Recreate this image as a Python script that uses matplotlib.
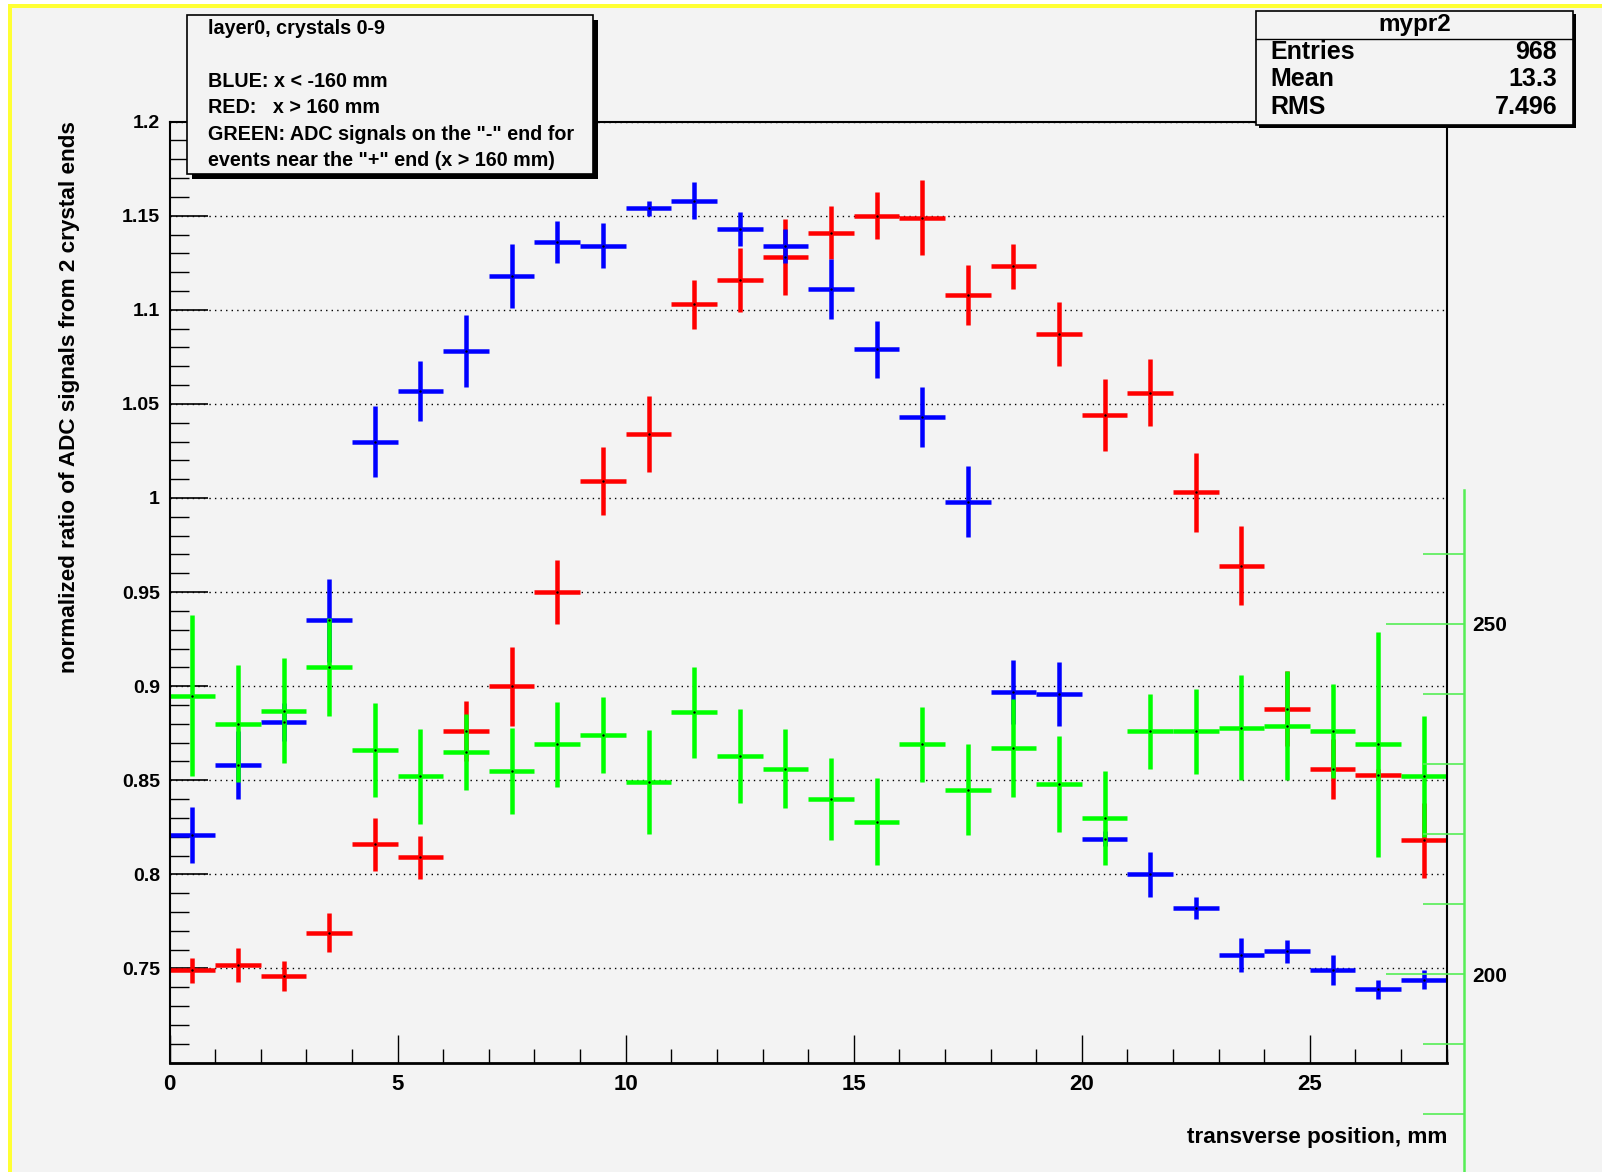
import numpy as np
import matplotlib
matplotlib.use("Agg")
import matplotlib.pyplot as plt
from matplotlib.patches import Rectangle
from matplotlib.lines import Line2D
from matplotlib.ticker import MultipleLocator

# bin centres (transverse position, mm)
x = np.arange(28) + 0.5

# BLUE: x < -160 mm
blue = [0.821, 0.858, 0.881, 0.935, 1.030, 1.057, 1.078, 1.118, 1.136, 1.134,
        1.154, 1.158, 1.143, 1.134, 1.111, 1.079, 1.043, 0.998, 0.897, 0.896,
        0.819, 0.800, 0.782, 0.757, 0.759, 0.749, 0.739, 0.744]
blue_err = [0.015, 0.018, 0.010, 0.022, 0.019, 0.016, 0.019, 0.017, 0.011, 0.012,
            0.004, 0.010, 0.009, 0.009, 0.016, 0.015, 0.016, 0.019, 0.017, 0.017,
            0.004, 0.012, 0.006, 0.009, 0.006, 0.008, 0.005, 0.005]

# RED: x > 160 mm
red = [0.749, 0.752, 0.746, 0.769, 0.816, 0.809, 0.876, 0.900, 0.950, 1.009,
       1.034, 1.103, 1.116, 1.128, 1.141, 1.150, 1.149, 1.108, 1.123, 1.087,
       1.044, 1.056, 1.003, 0.964, 0.888, 0.856, 0.853, 0.818]
red_err = [0.0065, 0.009, 0.008, 0.0105, 0.014, 0.0115, 0.016, 0.021, 0.017, 0.018,
           0.020, 0.013, 0.017, 0.020, 0.014, 0.0125, 0.020, 0.016, 0.012, 0.017,
           0.019, 0.018, 0.021, 0.021, 0.020, 0.016, 0.003, 0.020]

# GREEN: "-" end signals for events near "+" end (drawn in left-axis units)
green = [0.895, 0.880, 0.887, 0.910, 0.866, 0.852, 0.865, 0.855, 0.869, 0.874,
         0.849, 0.886, 0.863, 0.856, 0.840, 0.828, 0.869, 0.845, 0.867, 0.848,
         0.830, 0.876, 0.876, 0.878, 0.879, 0.876, 0.869, 0.852]
green_err = [0.043, 0.031, 0.028, 0.026, 0.025, 0.025, 0.020, 0.023, 0.0225, 0.020,
             0.0275, 0.024, 0.025, 0.021, 0.022, 0.023, 0.020, 0.024, 0.026, 0.0255,
             0.025, 0.020, 0.0225, 0.028, 0.029, 0.025, 0.060, 0.032]

ytick_vals = [0.75, 0.8, 0.85, 0.9, 0.95, 1.0, 1.05, 1.1, 1.15, 1.2]
ytick_labels = ["0.75", "0.8", "0.85", "0.9", "0.95", "1", "1.05", "1.1", "1.15", "1.2"]
xtick_vals = [0, 5, 10, 15, 20, 25]

legend_lines = ["layer0, crystals 0-9", "", "BLUE: x < -160 mm", "RED:   x > 160 mm",
                'GREEN: ADC signals on the "-" end for',
                'events near the "+" end (x > 160 mm)']
stats_title = "mypr2"
stats_names = ["Entries", "Mean", "RMS"]
stats_vals = ["968", "13.3", "7.496"]

W, H = 1602, 1172
BG = "#f3f3f3"
BOLD = ["Liberation Sans", "DejaVu Sans"]


def fx(px):
    return px / W


def fy(py):
    return 1 - py / H


def pt(px):
    return px * 72.0 / 100


fig = plt.figure(figsize=(W / 100, H / 100), dpi=100)
fig.patch.set_facecolor("white")
# canvas with yellow border on top/left
fig.patches.append(Rectangle((fx(10), 0), 1, fy(6), transform=fig.transFigure,
                             facecolor=BG, edgecolor="none", zorder=-10))
fig.lines.append(Line2D([fx(10), 1], [fy(5.5), fy(5.5)], transform=fig.transFigure,
                        color="#ffff33", lw=pt(4), zorder=-9))
fig.lines.append(Line2D([fx(10), fx(10)], [0, fy(5.5)], transform=fig.transFigure,
                        color="#ffff33", lw=pt(4), zorder=-9))

ax = fig.add_axes([fx(169.6), fy(1062.5), fx(1446.7) - fx(169.6), fy(121.6) - fy(1062.5)])
ax.set_facecolor(BG)
ax.set_xlim(0, 28)
ax.set_ylim(0.7, 1.2)

ekw = dict(fmt="none", capsize=0, elinewidth=pt(4.5))
ax.errorbar(x, red, yerr=red_err, xerr=0.5, ecolor="#ff0000", **ekw)
ax.errorbar(x, blue, yerr=blue_err, xerr=0.5, ecolor="#0000ff", **ekw)
ax.errorbar(x, green, yerr=green_err, xerr=0.5, ecolor="#00ff00", **ekw)
for s in (red, blue, green):
    ax.plot(x, s, "k.", ms=1.5)

ax.set_yticks(ytick_vals)
ax.set_yticklabels(ytick_labels, family=BOLD, fontweight="bold", fontsize=14)
ax.yaxis.set_minor_locator(MultipleLocator(0.01))
ax.set_xticks(xtick_vals)
ax.set_xticklabels([str(v) for v in xtick_vals], family=BOLD, fontweight="bold", fontsize=16)
ax.xaxis.set_minor_locator(MultipleLocator(1))
ax.tick_params(axis="y", which="major", direction="in", length=pt(38), width=1.2, pad=7)
ax.tick_params(axis="y", which="minor", direction="in", length=pt(19), width=1.0)
ax.tick_params(axis="x", which="major", direction="in", length=pt(28), width=1.0, pad=8)
ax.tick_params(axis="x", which="minor", direction="in", length=pt(14), width=1.0)
ax.grid(axis="y", which="major", color="black", linestyle=(0, (1, 3)), lw=1.0)
for side in ("left", "right", "top"):
    ax.spines[side].set_linewidth(1.5)
ax.spines["bottom"].set_linewidth(2.0)

# green secondary axis (ROOT TGaxis style)
gax = fig.add_axes([fx(1463), 0, 0.0006, fy(490)])
gax.set_ylim(200 - 198 / 7.0, 200 + 484 / 7.0)
gax.patch.set_visible(False)
for side in ("left", "top", "bottom"):
    gax.spines[side].set_visible(False)
gax.spines["right"].set_color("#55ee55")
gax.spines["right"].set_linewidth(1.8)
gax.set_xticks([])
gax.yaxis.tick_right()
gax.yaxis.set_major_locator(MultipleLocator(50))
gax.yaxis.set_minor_locator(MultipleLocator(10))
gax.tick_params(axis="y", which="major", direction="in", length=pt(78), width=1.2,
                color="#55ee55", pad=6, labelsize=15)
gax.tick_params(axis="y", which="minor", direction="in", length=pt(41), width=1.2,
                color="#55ee55")
for lab in gax.get_yticklabels():
    lab.set_fontweight("bold")
    lab.set_family(BOLD)

# axis titles
fig.text(fx(69.5), fy(397.5), "normalized ratio of ADC signals from 2 crystal ends",
         rotation=90, ha="center", va="center", family=BOLD, fontweight="bold", fontsize=16.2)
fig.text(fx(1447), fy(1137), "transverse position, mm", ha="right", va="center",
         family=BOLD, fontweight="bold", fontsize=16.2)

# legend pave
lx0, ly0, lx1, ly1 = 187, 15.5, 592.5, 173.5
fig.patches.append(Rectangle((fx(lx0 + 5), fy(ly1 + 5)), fx(lx1 - lx0), fy(ly0) - fy(ly1),
                             transform=fig.transFigure, facecolor="black", edgecolor="none", zorder=5))
fig.patches.append(Rectangle((fx(lx0), fy(ly1)), fx(lx1 - lx0), fy(ly0) - fy(ly1),
                             transform=fig.transFigure, facecolor=BG, edgecolor="black", lw=1.2, zorder=6))
for i, line in enumerate(legend_lines):
    fig.text(fx(208), fy(29 + i * 26.3), line, ha="left", va="center", family=BOLD,
             fontweight="bold", fontsize=14.2, zorder=7)

# stats box
sx0, sy0, sx1, sy1 = 1255.5, 10.5, 1573, 124.5
fig.patches.append(Rectangle((fx(sx0 + 3), fy(sy1 + 3)), fx(sx1 - sx0), fy(sy0) - fy(sy1),
                             transform=fig.transFigure, facecolor="black", edgecolor="none", zorder=5))
fig.patches.append(Rectangle((fx(sx0), fy(sy1)), fx(sx1 - sx0), fy(sy0) - fy(sy1),
                             transform=fig.transFigure, facecolor=BG, edgecolor="black", lw=1.2, zorder=6))
fig.lines.append(Line2D([fx(sx0), fx(sx1)], [fy(38.5), fy(38.5)], transform=fig.transFigure,
                        color="black", lw=1.0, zorder=7))
fig.text(fx((sx0 + sx1) / 2), fy(25), stats_title, ha="center", va="center", family=BOLD,
         fontweight="bold", fontsize=17.5, zorder=7)
for i, (n, v) in enumerate(zip(stats_names, stats_vals)):
    yy = fy(52 + i * 27.5)
    fig.text(fx(1270), yy, n, ha="left", va="center", family=BOLD, fontweight="bold",
             fontsize=18, zorder=7)
    fig.text(fx(1557), yy, v, ha="right", va="center", family=BOLD, fontweight="bold",
             fontsize=18, zorder=7)

fig.savefig("out.png", dpi=100, facecolor=fig.get_facecolor())
